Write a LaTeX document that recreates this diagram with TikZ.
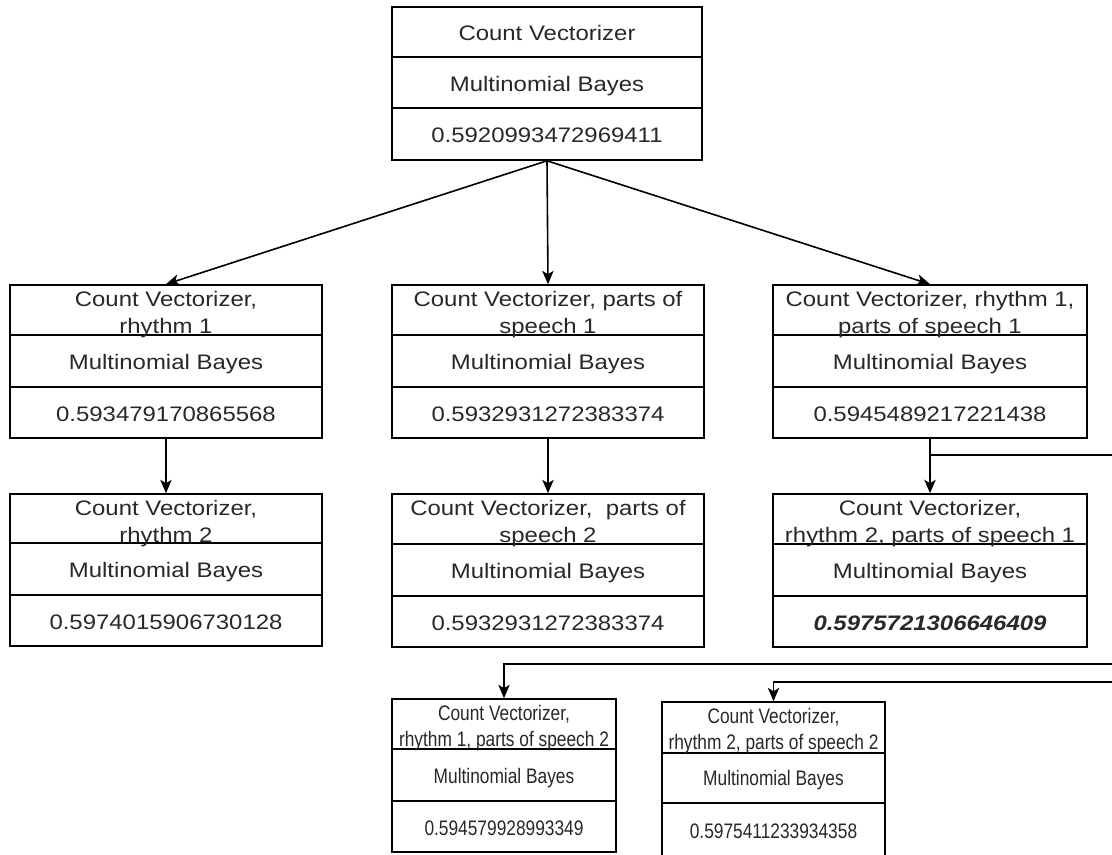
\documentclass[tikz,border=0pt]{standalone}
\usepackage{fontspec}
\setmainfont{Liberation Sans}
\newfontfamily\wfont{Liberation Sans}[FakeStretch=1.14]
\newfontfamily\nfont{Liberation Sans}[FakeStretch=0.825]
\usetikzlibrary{arrows.meta,fit}
\definecolor{txtc}{RGB}{40,40,40}
\newcommand\cvbox[7]{% name, xl, xr, yt, y1, y2, yb
  \path (#2,#4) coordinate (#1nw) (#3,#7) coordinate (#1se);
  \node[boxst, fit=(#1nw)(#1se)] (#1) {};
  \draw[linest] (#2,#5) -- (#3,#5) (#2,#6) -- (#3,#6);
}
\begin{document}
\begin{tikzpicture}[x=0.75pt,y=-0.75pt,
  boxst/.style={draw=black, line width=1.2pt, inner sep=0pt},
  linest/.style={draw=black, line width=1.2pt},
  wtxt/.style={anchor=base, inner sep=0pt, text=txtc, font=\wfont\fontsize{15.75pt}{18pt}\selectfont},
  ntxt/.style={anchor=base, inner sep=0pt, text=txtc, font=\nfont\fontsize{15.75pt}{18pt}\selectfont},
  arr/.style={draw=black, line width=1.2pt, -{Stealth[length=10pt,width=8.5pt,inset=2.5pt]}}]
\useasboundingbox (0,0) rectangle (1112,854);
\clip (0,0) rectangle (1112,854);
\fill[white] (0,0) rectangle (1112,854);

% top box
\cvbox{T}{392}{702}{7}{57}{108}{160}
\node[wtxt] (T1) at (547,40) {Count Vectorizer};
\node[wtxt] (T2) at (547,91) {Multinomial Bayes};
\node[wtxt] (T3) at (547,142) {0.5920993472969411};

% row 2
\cvbox{A}{10}{322}{285}{335}{387}{438}
\node[wtxt] (A1) at (166,306) {Count Vectorizer,};
\node[wtxt] (A2) at (166,333) {rhythm 1};
\node[wtxt] (A3) at (166,369) {Multinomial Bayes};
\node[wtxt] (A4) at (166,421) {0.593479170865568};

\cvbox{B}{392}{704}{285}{335}{387}{438}
\node[wtxt] (B1) at (548,306) {Count Vectorizer, parts of};
\node[wtxt] (B2) at (548,333) {speech 1};
\node[wtxt] (B3) at (548,369) {Multinomial Bayes};
\node[wtxt] (B4) at (548,421) {0.5932931272383374};

\cvbox{C}{773}{1087}{285}{335}{387}{438}
\node[wtxt] (C1) at (930,306) {Count Vectorizer, rhythm 1,};
\node[wtxt] (C2) at (930,333) {parts of speech 1};
\node[wtxt] (C3) at (930,369) {Multinomial Bayes};
\node[wtxt] (C4) at (930,421) {0.5945489217221438};

% row 3
\cvbox{D}{10}{322}{494}{543}{595}{646}
\node[wtxt] (D1) at (166,515) {Count Vectorizer,};
\node[wtxt] (D2) at (166,542) {rhythm 2};
\node[wtxt] (D3) at (166,577) {Multinomial Bayes};
\node[wtxt] (D4) at (166,629) {0.5974015906730128};

\cvbox{E}{392}{704}{494}{544}{596}{647}
\node[wtxt] (E1) at (548,515) {Count Vectorizer,\ \ parts of};
\node[wtxt] (E2) at (548,542) {speech 2};
\node[wtxt] (E3) at (548,578) {Multinomial Bayes};
\node[wtxt] (E4) at (548,630) {0.5932931272383374};

\cvbox{F}{773}{1087}{494}{544}{596}{647}
\node[wtxt] (F1) at (930,515) {Count Vectorizer,};
\node[wtxt] (F2) at (930,542) {rhythm 2, parts of speech 1};
\node[wtxt] (F3) at (930,578) {Multinomial Bayes};
\node[wtxt] (F4) at (930,630) {\bfseries\itshape 0.5975721306646409};

% row 4
\cvbox{G}{392}{616}{699}{749}{801}{852}
\node[ntxt] (G1) at (504,720) {Count Vectorizer,};
\node[ntxt] (G2) at (504,746) {rhythm 1, parts of speech 2};
\node[ntxt] (G3) at (504,783) {Multinomial Bayes};
\node[ntxt] (G4) at (504,835) {0.594579928993349};

\cvbox{H}{662}{885}{702}{753}{803}{858}
\node[ntxt] (H1) at (773.5,723) {Count Vectorizer,};
\node[ntxt] (H2) at (773.5,749) {rhythm 2, parts of speech 2};
\node[ntxt] (H3) at (773.5,785) {Multinomial Bayes};
\node[ntxt] (H4) at (773.5,838) {0.5975411233934358};

% connectors
\draw[arr] (T.south) -- (A.north);
\draw[arr] (T.south) -- (B.north);
\draw[arr] (T.south) -- (C.north);
\draw[arr] (A.south) -- (D.north);
\draw[arr] (B.south) -- (E.north);
\draw[arr] (C.south) -- (F.north);

\coordinate (r1) at (1130,455);
\coordinate (r2) at (1130,664);
\coordinate (r3) at (1130,682);
\draw[arr] (C.south) |- (r1) -- (r2) -| (G.north);
\draw[arr] (C.south) |- (r1) -- (r3) -| (H.north);
\end{tikzpicture}
\end{document}
